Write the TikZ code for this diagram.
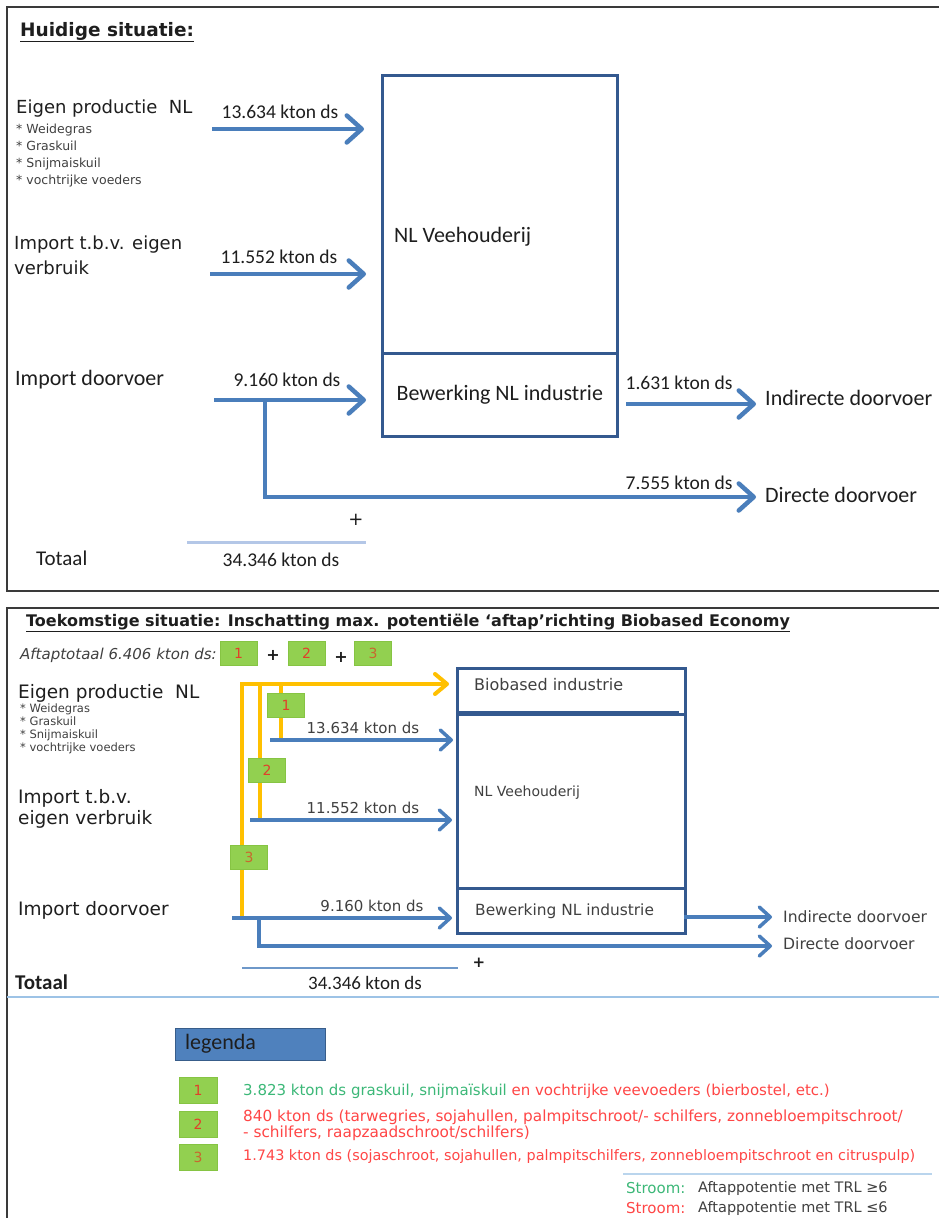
\documentclass[tikz,border=0pt]{standalone}
\usepackage{fontspec}
\setmainfont{DejaVu Sans}
\newfontfamily\calib{Carlito}
\usetikzlibrary{arrows.meta}
\definecolor{flowblue}{HTML}{4A7EBB}
\definecolor{boxblue}{HTML}{34598F}
\definecolor{amber}{HTML}{FFC000}
\definecolor{gfill}{HTML}{92D050}
\definecolor{gdraw}{HTML}{86C443}
\definecolor{numred}{HTML}{E0402A}
\definecolor{numorange}{HTML}{C8682E}
\definecolor{legG}{HTML}{3CB878}
\definecolor{legR}{HTML}{FF4646}
\definecolor{textc}{HTML}{1E1E1E}
\definecolor{textg}{HTML}{404040}
\definecolor{framec}{HTML}{3A3A3A}
\definecolor{lblue}{HTML}{B4C7E7}
\definecolor{sepblue}{HTML}{9DC3E6}
\definecolor{legfill}{HTML}{4F81BD}
\definecolor{legdraw}{HTML}{385D8A}
\tikzset{
  txt/.style={inner sep=0pt, text=textc},
  wtxt/.style={txt, anchor=west},
  vbig/.style={font=\fontsize{18}{20}\selectfont},
  vbigb/.style={font=\fontsize{18.5}{20}\selectfont},
  cbig/.style={font=\calib\fontsize{22}{24}\selectfont},
  clab/.style={font=\calib\fontsize{19.5}{21}\selectfont},
  vlab/.style={font=\fontsize{15}{17}\selectfont},
  framebox/.style={draw=framec, line width=1.5pt},
  stagebox/.style={draw=boxblue, line width=2.5pt, inner sep=0pt},
  flowtop/.style={draw=flowblue, line width=4.5pt, -{Straight Barb[length=15pt,width=27pt,round]}},
  flowbot/.style={draw=flowblue, line width=3.5pt, -{Straight Barb[length=11pt,width=20pt,round]}},
  oline/.style={draw=amber, line width=4pt},
  oflow/.style={oline, -{Straight Barb[length=12pt,width=20pt,round]}},
  gbox/.style={fill=gfill, draw=gdraw, line width=1pt, minimum width=37pt, minimum height=24pt, inner sep=0pt, font=\fontsize{14}{16}\selectfont},
}
\begin{document}
\begin{tikzpicture}[x=1pt,y=-1pt]
\useasboundingbox (0,0) rectangle (939,1218);
\fill[white] (0,0) rectangle (939,1218);

% ================= TOP PANEL =================
\draw[framebox] (960,7) -- (7,7) -- (7,591) -- (960,591);
\node[wtxt, font=\bfseries\fontsize{18.5}{20}\selectfont] (t1) at (20,32) {\underline{Huidige situatie:}};

\node[wtxt, vbig] (ep1) at (16,109) {Eigen productie\ \ NL};
\node[wtxt, align=left, font=\fontsize{12.5}{17}\selectfont, text=textg] (epl1) at (16,156) {* Weidegras\\* Graskuil\\* Snijmaiskuil\\* vochtrijke voeders};
\node[wtxt, vbig, align=left, font=\fontsize{18}{25}\selectfont] (imp1) at (14,255) {Import t.b.v. eigen\\verbruik};
\node[wtxt, cbig] (dv1) at (15,380) {Import doorvoer};

\node[stagebox, minimum width=235pt, minimum height=278pt, anchor=north west] (vee1) at (381,74) {};
\node[wtxt, cbig] (vee1t) at (394,237) {NL Veehouderij};
\node[stagebox, minimum width=235pt, minimum height=83pt, anchor=north west, cbig, text=textc] (bew1) at (381,352) {Bewerking NL industrie};

\coordinate (a1s) at (212,129); \coordinate (a1e) at (364,129);
\coordinate (a2s) at (210,274); \coordinate (a2e) at (366,274);
\coordinate (a3s) at (214,400); \coordinate (a3e) at (366,400);
\coordinate (br1) at (265,400); \coordinate (dd1) at (756,497);
\coordinate (ri1s) at (626,404); \coordinate (ri1e) at (756,404);
\draw[flowtop] (a1s) -- (a1e);
\draw[flowtop] (a2s) -- (a2e);
\draw[flowtop] (a3s) -- (a3e);
\draw[flowtop] (br1) |- (dd1);
\draw[flowtop] (ri1s) -- (ri1e);

\node[txt, clab] (l11) at (280,112) {13.634 kton ds};
\node[txt, clab] (l12) at (279,257) {11.552 kton ds};
\node[txt, clab] (l13) at (287,380) {9.160 kton ds};
\node[txt, clab] (l14) at (679,383) {1.631 kton ds};
\node[txt, clab] (l15) at (679,483) {7.555 kton ds};

\node[wtxt, cbig] (ind1) at (765,398) {Indirecte doorvoer};
\node[wtxt, cbig] (dir1) at (765,495) {Directe doorvoer};

\node[txt, font=\fontsize{18}{20}\selectfont] (plus1) at (356,520) {+};
\coordinate (sl1) at (187,542); \coordinate (sr1) at (366,542);
\draw[lblue, line width=3pt] (sl1) -- (sr1);
\node[wtxt, font=\calib\fontsize{21}{23}\selectfont] (tot1) at (36,558) {Totaal};
\node[txt, clab] (tv1) at (281,560) {34.346 kton ds};

% ================= BOTTOM PANEL =================
\draw[framebox] (960,608) -- (7,608) -- (7,1240);
\node[wtxt, font=\bfseries\fontsize{16}{18}\selectfont] (t2) at (26,623) {\underline{Toekomstige situatie: Inschatting max. potentiële ‘aftap’richting Biobased Economy}};

\node[wtxt, font=\itshape\fontsize{15}{17}\selectfont, text=textg] (aft) at (20,655) {Aftaptotaal 6.406 kton ds:};
\node[gbox, text=numred] (tg1) at (238.5,653) {1};
\node[txt, font=\bfseries\fontsize{16}{18}\selectfont] (tp1) at (273,655) {+};
\node[gbox, text=numred] (tg2) at (306.5,653) {2};
\node[txt, font=\bfseries\fontsize{16}{18}\selectfont] (tp2) at (341,657) {+};
\node[gbox, text=numorange] (tg3) at (373,653) {3};

\node[wtxt, vbigb] (ep2) at (18,693) {Eigen productie\ \ NL};
\node[wtxt, align=left, font=\fontsize{11.5}{13}\selectfont, text=textg] (epl2) at (20,729) {* Weidegras\\* Graskuil\\* Snijmaiskuil\\* vochtrijke voeders};
\node[wtxt, align=left, font=\fontsize{18.5}{21}\selectfont] (imp2) at (18,809) {Import t.b.v.\\eigen verbruik};
\node[wtxt, vbigb] (dv2) at (18,910) {Import doorvoer};

\node[stagebox, minimum width=228pt, minimum height=46pt, anchor=north west] (bio) at (456,667) {};
\node[stagebox, minimum width=228pt, minimum height=174pt, anchor=north west] (vee2) at (456,713) {};
\node[stagebox, minimum width=228pt, minimum height=45pt, anchor=north west] (bew2) at (456,887) {};
\coordinate (dvl) at (456,713); \coordinate (dvr) at (679,713);
\draw[boxblue, line width=3.5pt] (dvl) -- (dvr);
\node[wtxt, font=\fontsize{16}{18}\selectfont, text=textg] (biot) at (474,685) {Biobased industrie};
\node[wtxt, font=\fontsize{14}{16}\selectfont, text=textg] (vee2t) at (474,793) {NL Veehouderij};
\node[wtxt, font=\fontsize{15.4}{17}\selectfont, text=textg] (bew2t) at (475,911) {Bewerking NL industrie};

% orange tap lines
\coordinate (o3s) at (242,917); \coordinate (oe) at (449,684);
\coordinate (o2s) at (260,819); \coordinate (o2t) at (260,684);
\coordinate (o1s) at (281,738); \coordinate (o1t) at (281,684);
\draw[oline] (o2s) -- (o2t);
\draw[oline] (o1s) -- (o1t);
\draw[oflow] (o3s) |- (oe);

% blue flows
\coordinate (b1s) at (270,740); \coordinate (b1e) at (453,740);
\coordinate (b2s) at (250,820); \coordinate (b2e) at (452,820);
\coordinate (b3s) at (232,918); \coordinate (b3e) at (452,918);
\coordinate (br2) at (259,918); \coordinate (dd2) at (772,946);
\coordinate (ri2s) at (684,917); \coordinate (ri2e) at (772,917);
\draw[flowbot] (b1s) -- (b1e);
\draw[flowbot] (b2s) -- (b2e);
\draw[flowbot] (b3s) -- (b3e);
\draw[flowbot] (br2) |- (dd2);
\draw[flowbot] (ri2s) -- (ri2e);

\node[gbox, text=numred] (og1) at (286,705) {1};
\node[gbox, text=numred] (og2) at (267,770) {2};
\node[gbox, text=numorange] (og3) at (249,857) {3};

\node[txt, vlab, text=textg] (l21) at (363,728) {13.634 kton ds};
\node[txt, vlab, text=textg] (l22) at (363,808) {11.552 kton ds};
\node[txt, vlab, text=textg] (l23) at (372,906) {9.160 kton ds};

\node[wtxt, font=\fontsize{15.6}{17}\selectfont, text=textg] (ind2) at (783,917) {Indirecte doorvoer};
\node[wtxt, font=\fontsize{15.6}{17}\selectfont, text=textg] (dir2) at (783,944) {Directe doorvoer};

\node[txt, font=\bfseries\fontsize{15}{17}\selectfont] (plus2) at (479,963) {+};
\coordinate (sl2) at (242,968); \coordinate (sr2) at (458,968);
\draw[flowblue!80, line width=1.2pt] (sl2) -- (sr2);
\node[wtxt, font=\calib\bfseries\fontsize{21}{24}\selectfont] (tot2) at (15,982) {Totaal};
\node[txt, font=\calib\fontsize{19}{21}\selectfont] (tv2) at (365,983) {34.346 kton ds};

\coordinate (sepl) at (7,997); \coordinate (sepr) at (960,997);
\draw[sepblue, line width=2pt] (sepl) -- (sepr);

% legend
\node[fill=legfill, draw=legdraw, line width=1.2pt, minimum width=150pt, minimum height=32pt, anchor=north west, inner sep=0pt] (leg) at (175,1028) {};
\node[wtxt, font=\calib\fontsize{22}{24}\selectfont] (legt) at (185,1044) {legenda};

\node[gbox, minimum width=38pt, minimum height=26pt, text=numred] (lg1) at (198,1090) {1};
\node[gbox, minimum width=38pt, minimum height=26pt, text=numred] (lg2) at (198,1124) {2};
\node[gbox, minimum width=38pt, minimum height=26pt, text=numorange] (lg3) at (198,1157) {3};

\node[wtxt, font=\fontsize{15}{17}\selectfont] (lt1) at (243,1091) {\color{legG}3.823 kton ds graskuil, snijmaïskuil \color{legR}en vochtrijke veevoeders (bierbostel, etc.)};
\node[wtxt, align=left, font=\fontsize{15.3}{14.5}\selectfont, text=legR] (lt2) at (243,1125) {840 kton ds (tarwegries, sojahullen, palmpitschroot/- schilfers, zonnebloempitschroot/\\- schilfers, raapzaadschroot/schilfers)};
\node[wtxt, font=\fontsize{14.4}{17}\selectfont, text=legR] (lt3) at (243,1157) {1.743 kton ds (sojaschroot, sojahullen, palmpitschilfers, zonnebloempitschroot en citruspulp)};

\coordinate (ll) at (623,1174); \coordinate (lr) at (932,1174);
\draw[sepblue!70, line width=2pt] (ll) -- (lr);
\node[wtxt, font=\fontsize{15}{17}\selectfont, text=legG] (s1) at (626,1188) {Stroom:};
\node[wtxt, font=\fontsize{14.5}{17}\selectfont, text=textg] (s1t) at (698,1188) {Aftappotentie met TRL ≥6};
\node[wtxt, font=\fontsize{15}{17}\selectfont, text=legR] (s2) at (626,1208) {Stroom:};
\node[wtxt, font=\fontsize{14.5}{17}\selectfont, text=textg] (s2t) at (698,1208) {Aftappotentie met TRL ≤6};
\end{tikzpicture}
\end{document}
